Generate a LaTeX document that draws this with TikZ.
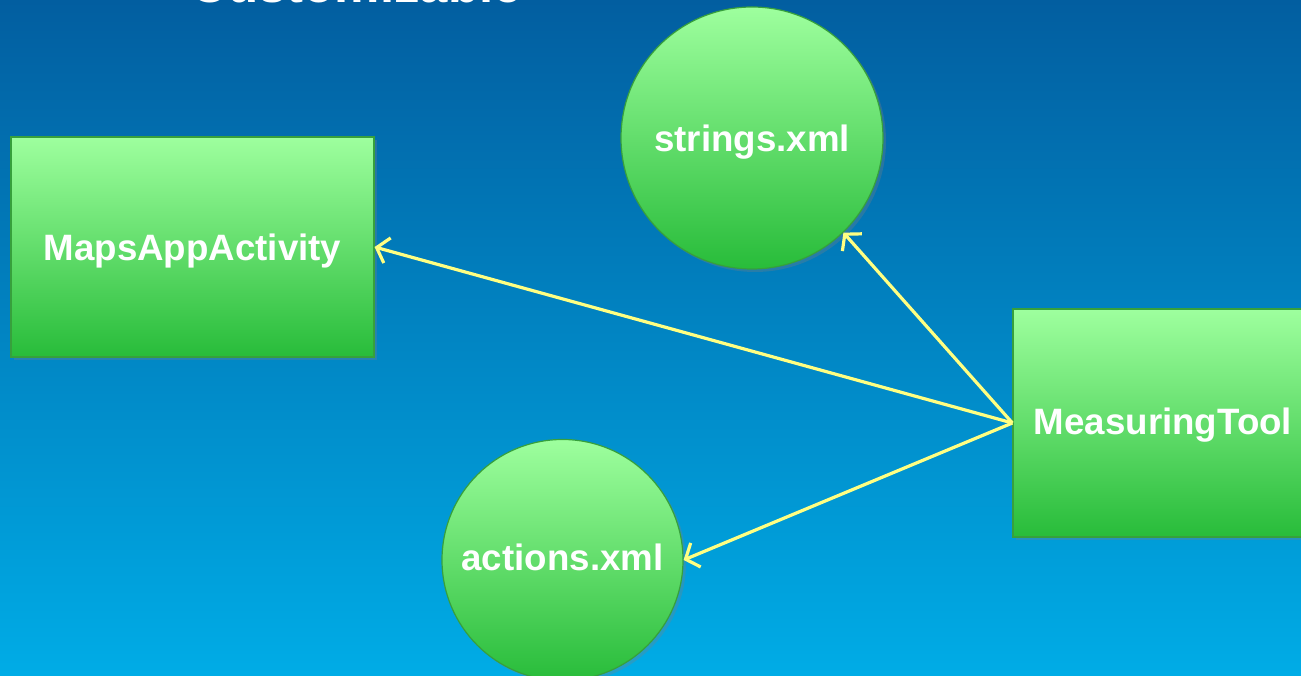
\documentclass[tikz,border=0pt]{standalone}
\usepackage{fontspec}
\setmainfont{Liberation Sans}
\usetikzlibrary{arrows.meta,shadows}
\definecolor{bgtop}{RGB}{2,94,160}
\definecolor{bgbot}{RGB}{0,172,230}
\definecolor{gtop}{RGB}{158,255,158}
\definecolor{gbot}{RGB}{40,188,58}
\definecolor{gline}{RGB}{55,160,60}
\definecolor{arr}{RGB}{255,255,130}
\tikzset{
  box/.style={rectangle, draw=gline, line width=1.2pt, top color=gtop, bottom color=gbot,
    drop shadow={opacity=0.3, shadow xshift=3pt, shadow yshift=-3pt},
    text=white, font=\bfseries\fontsize{36.7}{40}\selectfont, inner sep=0pt, text depth=6pt},
  ball/.style={circle, draw=gline, line width=1.2pt, top color=gtop, bottom color=gbot,
    drop shadow={opacity=0.3, shadow xshift=3pt, shadow yshift=-3pt},
    text=white, font=\bfseries\fontsize{36.7}{40}\selectfont, inner sep=0pt, text depth=6pt},
  link/.style={draw=arr, line width=3.2pt, -{Straight Barb[length=11pt,width=26pt,line width=3.2pt]}},
}
\begin{document}
\begin{tikzpicture}[x=1pt,y=1pt]
\useasboundingbox (0,0) rectangle (1301,675);
\begin{scope}
\clip (0,0) rectangle (1301,675);
\shade[top color=bgtop, bottom color=bgbot] (0,0) rectangle (1301,675);
\node[anchor=base west, text=white, font=\bfseries\fontsize{51}{55}\selectfont, inner sep=0pt] (title) at (190,672) {Customizable};
\node[box, minimum width=363pt, minimum height=220pt, text height=34pt] (maps) at (192.5,428) {MapsAppActivity};
\node[ball, minimum size=262pt, text height=34pt] (str) at (752,537) {strings.xml};
\node[ball, minimum size=241pt, text height=26pt] (act) at (562.5,115) {actions.xml};
\node[box, minimum width=300pt, minimum height=228pt, text height=30pt] (meas) at (1163,252) {MeasuringTool};
\draw[link] (meas.west) -- (maps.east);
\draw[link] (meas.west) -- (str.-46);
\draw[link] (meas.west) -- (act.east);
\end{scope}
\end{tikzpicture}
\end{document}
